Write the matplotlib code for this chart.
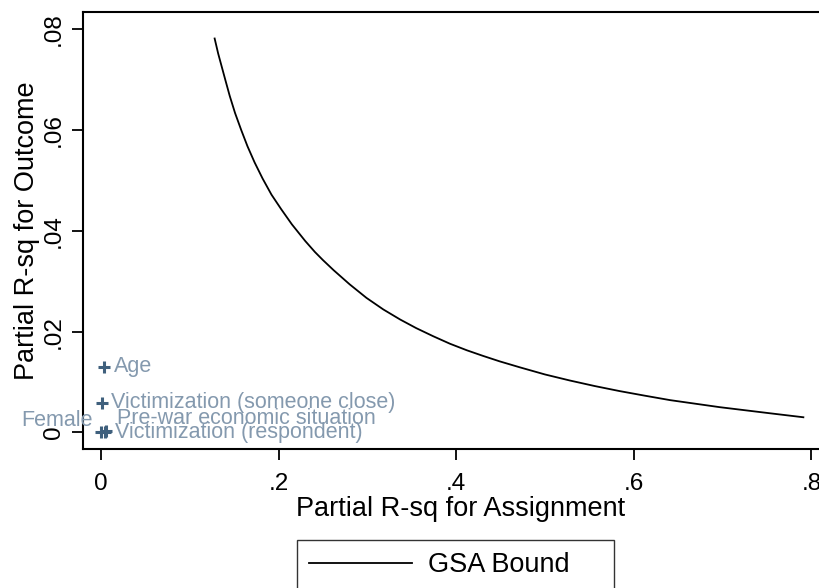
import matplotlib
matplotlib.use("Agg")
import matplotlib.pyplot as plt

plt.rcParams["font.family"] = ["Liberation Sans", "DejaVu Sans"]

# GSA bound curve
bound_x = [0.128, 0.132, 0.136, 0.140, 0.145, 0.151, 0.158, 0.165, 0.173, 0.182,
           0.192, 0.203, 0.215, 0.230, 0.241, 0.250, 0.262, 0.280, 0.299, 0.318,
           0.337, 0.355, 0.374, 0.393, 0.412, 0.430, 0.449, 0.472, 0.500, 0.528,
           0.556, 0.584, 0.612, 0.641, 0.669, 0.697, 0.725, 0.753, 0.772, 0.791]
bound_y = [0.0782, 0.0752, 0.0726, 0.0700, 0.0668, 0.0634, 0.0600, 0.0568, 0.0536, 0.0504,
           0.0472, 0.0443, 0.0413, 0.0380, 0.0358, 0.0342, 0.0322, 0.0294, 0.0267, 0.0244,
           0.0224, 0.0207, 0.0191, 0.0176, 0.0163, 0.0152, 0.0141, 0.0129, 0.0115, 0.0103,
           0.0092, 0.0082, 0.0073, 0.0064, 0.0057, 0.0050, 0.0044, 0.0038, 0.0034, 0.0030]

# covariates
cov_names = ["Age", "Victimization (someone close)", "Female",
             "Pre-war economic situation", "Victimization (respondent)"]
cov_x = [0.0037, 0.0008, 0.0000, 0.0060, 0.0050]
cov_y = [0.0130, 0.0059, 0.0001, 0.0002, 0.0000]
# label offsets in points (dx, dy, ha)
label_pos = [(7, 0, "left"), (7, 0, "left"), (-6, 8, "right"), (8, 9, "left"), (7, 0, "left")]

xticks = [0, 0.2, 0.4, 0.6, 0.8]
xtick_labels = ["0", ".2", ".4", ".6", ".8"]
yticks = [0, 0.02, 0.04, 0.06, 0.08]
ytick_labels = ["0", ".02", ".04", ".06", ".08"]

fig = plt.figure(figsize=(8.19, 5.88), dpi=100)
ax = fig.add_axes([83.3 / 819, 1 - 449 / 588, (838 - 83.3) / 819, (449 - 12.3) / 588])

line, = ax.plot(bound_x, bound_y, color="black", lw=1.3, label="GSA Bound")

ax.scatter(cov_x, cov_y, marker="+", s=70, color="#3f607d", linewidths=2.2, zorder=3)
for name, x, y, (dx, dy, ha) in zip(cov_names, cov_x, cov_y, label_pos):
    ax.annotate(name, (x, y), xytext=(dx, dy), textcoords="offset points",
                ha=ha, va="center", fontsize=15.5, color="#8499ae")

ax.set_xlim(-0.0199, 0.83)
ax.set_ylim(-0.0033, 0.0834)
ax.set_xticks(xticks)
ax.set_xticklabels(xtick_labels)
ax.set_yticks(yticks)
ax.set_yticklabels(ytick_labels, rotation=90, va="center")
ax.tick_params(labelsize=17.5, length=8, width=1.3)
ax.tick_params(axis="x", pad=9)
ax.tick_params(axis="y", pad=5)
for sp in ax.spines.values():
    sp.set_linewidth(1.5)

ax.set_xlabel("Partial R-sq for Assignment", fontsize=19.5, labelpad=1)
ax.set_ylabel("Partial R-sq for Outcome", fontsize=19.5, labelpad=2)

fig.legend(handles=[line], loc="upper left",
           bbox_to_anchor=(297 / 819, 0, (614 - 297) / 819, 1 - 540 / 588), mode="expand",
           fontsize=19.5, frameon=True, fancybox=False, edgecolor="black",
           handlelength=3.8, borderpad=0.45, handletextpad=0.6, borderaxespad=0)

fig.savefig("out.png", dpi=100)
